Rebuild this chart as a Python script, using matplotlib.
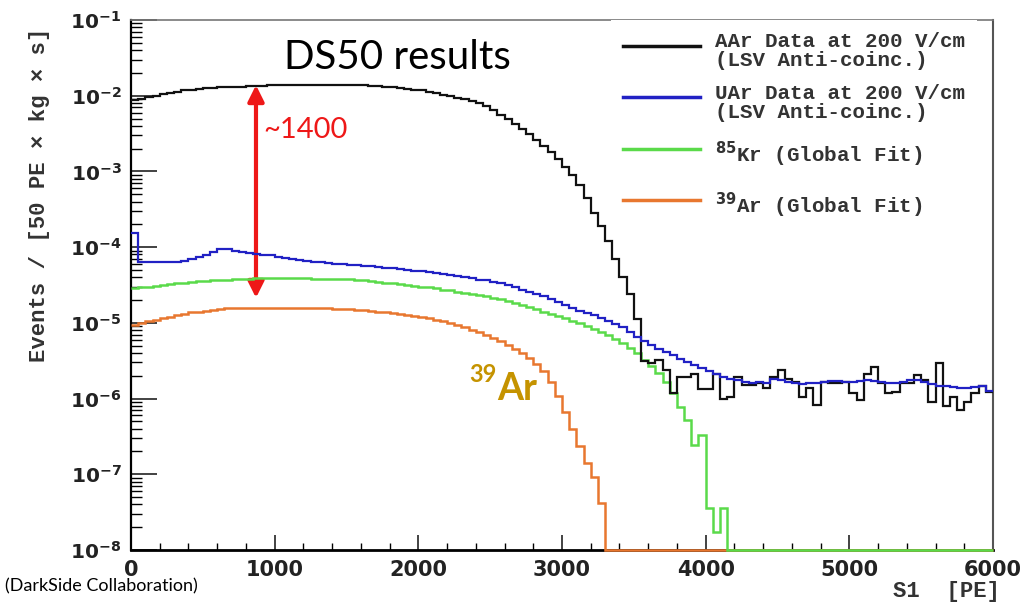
"""DS50 S1 spectra: AAr vs UAr with 85Kr and 39Ar global-fit components."""

import numpy as np
import matplotlib.pyplot as plt
from matplotlib.font_manager import FontProperties
from matplotlib.lines import Line2D
from matplotlib.ticker import FuncFormatter, LogLocator, MultipleLocator, NullFormatter

plt.rcParams["mathtext.fontset"] = "dejavusans"
plt.rcParams["font.weight"] = "bold"

# histogram binning: 50 PE per bin, 0..6000 PE
bin_width = 50
s1_edges = np.arange(0, 6000 + bin_width, bin_width)

# log10(events / [50 PE x kg x s]) per bin; None = empty bin
aar_log = [
    -2.06, -2.04, -2.02, -2.00, -1.98, -1.96, -1.95, -1.93, -1.92, -1.91,
    -1.90, -1.90, -1.89, -1.89, -1.88, -1.88, -1.87, -1.87, -1.87, -1.86,
    -1.86, -1.86, -1.86, -1.86, -1.86, -1.86, -1.86, -1.86, -1.86, -1.86,
    -1.86, -1.86, -1.86, -1.87, -1.87, -1.88, -1.89, -1.90, -1.91, -1.92,
    -1.93, -1.95, -1.97, -1.99, -2.01, -2.03, -2.05, -2.07, -2.10, -2.14,
    -2.19, -2.25, -2.31, -2.38, -2.44, -2.51, -2.58, -2.66, -2.75, -2.84,
    -2.94, -3.05, -3.18, -3.35, -3.55, -3.72, -3.92, -4.15, -4.40, -4.62,
    -4.95, -5.51, -5.53, -5.49, -5.62, -5.93, -5.72, -5.71, -5.68, -5.87,
    -5.87, -5.67, -6.00, -5.98, -5.71, -5.82, -5.82, -5.80, -5.86, -5.71,
    -5.62, -5.74, -5.78, -5.98, -5.86, -6.08, -5.78, -5.80, -5.80, -5.78,
    -5.93, -6.02, -5.67, -5.58, -5.80, -5.93, -5.91, -5.80, -5.80, -5.69,
    -5.76, -6.04, -5.53, -6.10, -5.98, -6.15, -6.04, -5.93, -5.84, -5.91,
]
uar_log = [
    -3.81, -4.20, -4.20, -4.20, -4.19, -4.19, -4.19, -4.18, -4.16, -4.13,
    -4.10, -4.06, -4.02, -4.03, -4.05, -4.06, -4.08, -4.09, -4.10, -4.11,
    -4.13, -4.14, -4.16, -4.17, -4.18, -4.19, -4.20, -4.21, -4.22, -4.22,
    -4.23, -4.24, -4.25, -4.25, -4.26, -4.27, -4.28, -4.29, -4.30, -4.31,
    -4.32, -4.33, -4.34, -4.35, -4.37, -4.38, -4.40, -4.41, -4.43, -4.44,
    -4.46, -4.48, -4.50, -4.53, -4.56, -4.59, -4.62, -4.65, -4.69, -4.72,
    -4.76, -4.80, -4.84, -4.87, -4.90, -4.94, -4.98, -5.02, -5.06, -5.12,
    -5.19, -5.24, -5.29, -5.34, -5.38, -5.43, -5.48, -5.52, -5.56, -5.60,
    -5.64, -5.68, -5.71, -5.74, -5.76, -5.78, -5.79, -5.78, -5.79, -5.74,
    -5.75, -5.78, -5.80, -5.81, -5.80, -5.79, -5.78, -5.77, -5.77, -5.78,
    -5.78, -5.77, -5.76, -5.77, -5.78, -5.79, -5.79, -5.78, -5.76, -5.75,
    -5.78, -5.81, -5.83, -5.84, -5.85, -5.86, -5.86, -5.85, -5.83, -5.90,
]
kr85_log = [
    -4.54, -4.53, -4.52, -4.51, -4.50, -4.49, -4.48, -4.47, -4.46, -4.45,
    -4.45, -4.44, -4.44, -4.43, -4.42, -4.42, -4.42, -4.41, -4.41, -4.41,
    -4.41, -4.41, -4.41, -4.41, -4.41, -4.42, -4.42, -4.42, -4.42, -4.42,
    -4.42, -4.43, -4.44, -4.45, -4.46, -4.47, -4.48, -4.49, -4.50, -4.51,
    -4.52, -4.53, -4.54, -4.56, -4.57, -4.59, -4.60, -4.62, -4.63, -4.65,
    -4.67, -4.69, -4.71, -4.74, -4.76, -4.79, -4.82, -4.85, -4.88, -4.91,
    -4.94, -4.97, -5.00, -5.04, -5.08, -5.12, -5.16, -5.21, -5.27, -5.33,
    -5.40, -5.49, -5.57, -5.66, -5.78, -5.93, -6.11, -6.28, -6.61, -6.48,
    -7.45, -7.76, -7.45,
] + [None] * 37
ar39_log = [
    -5.03, -5.00, -4.98, -4.96, -4.94, -4.92, -4.90, -4.88, -4.86, -4.85,
    -4.84, -4.83, -4.82, -4.81, -4.80, -4.80, -4.80, -4.80, -4.80, -4.80,
    -4.80, -4.80, -4.80, -4.80, -4.80, -4.81, -4.81, -4.81, -4.82, -4.82,
    -4.82, -4.83, -4.83, -4.84, -4.85, -4.86, -4.87, -4.88, -4.89, -4.91,
    -4.92, -4.94, -4.96, -4.98, -5.00, -5.03, -5.06, -5.09, -5.12, -5.16,
    -5.20, -5.24, -5.29, -5.34, -5.40, -5.46, -5.54, -5.64, -5.78, -5.96,
    -6.18, -6.40, -6.62, -6.85, -7.04, -7.38,
] + [None] * 54

series_labels = [
    "AAr Data at 200 V/cm\n(LSV Anti-coinc.)",
    "UAr Data at 200 V/cm\n(LSV Anti-coinc.)",
    r"$^{85}$Kr (Global Fit)",
    r"$^{39}$Ar (Global Fit)",
]

# annotation values
ratio_label = "~1400"
ratio_x = 870
ratio_top, ratio_bottom = 10 ** -1.86, 10 ** -4.67

Y_MIN, Y_MAX = 1e-8, 1e-1

c_aar = "#111111"
c_uar = "#2121c4"
c_kr = "#5ada4a"
c_ar = "#e8772f"
c_red = "#ee1818"
c_gold = "#c59300"


def to_counts(logs):
    # empty bins sit on the axis floor, like ROOT draws them
    return np.array([Y_MIN if v is None else 10.0 ** v for v in logs])


fig = plt.figure(figsize=(10.25, 6.06), dpi=100)
ax = fig.add_axes([0.1278, 0.0924, 0.841, 0.8746])
ax.set_yscale("log")

ax.stairs(to_counts(ar39_log), s1_edges, baseline=None, color=c_ar, lw=1.8,
          clip_on=False, zorder=3)
ax.stairs(to_counts(kr85_log), s1_edges, baseline=None, color=c_kr, lw=1.8,
          clip_on=False, zorder=3.1)
ax.stairs(to_counts(aar_log), s1_edges, baseline=None, color=c_aar, lw=1.6, zorder=3.2)
ax.stairs(to_counts(uar_log), s1_edges, baseline=None, color=c_uar, lw=1.6, zorder=3.3)

ax.set_xlim(0, 6000)
ax.set_ylim(Y_MIN, Y_MAX)

ax.xaxis.set_major_locator(MultipleLocator(1000))
ax.xaxis.set_minor_locator(MultipleLocator(200))
ax.yaxis.set_major_locator(LogLocator(base=10, numticks=20))
ax.yaxis.set_minor_locator(LogLocator(base=10, subs=np.arange(2, 10), numticks=20))
ax.yaxis.set_minor_formatter(NullFormatter())
ax.yaxis.set_major_formatter(
    FuncFormatter(lambda v, p: r"$\mathbf{10^{%d}}$" % round(np.log10(v)))
)

ax.tick_params(axis="x", which="major", direction="in", length=11, width=1.2,
               labelsize=15, pad=7, colors="#222222", top=False)
ax.tick_params(axis="x", which="minor", direction="in", length=5, width=1.0, top=False)
ax.tick_params(axis="y", which="major", direction="in", length=19, width=1.2,
               labelsize=14.5, pad=7, colors="#222222", right=False)
ax.tick_params(axis="y", which="minor", direction="in", length=8, width=1.0, right=False)

ax.spines["left"].set_linewidth(1.6)
ax.spines["bottom"].set_linewidth(2.0)
ax.spines["top"].set_color("#777777")
ax.spines["top"].set_linewidth(1.2)
ax.spines["right"].set_color("#555555")
ax.spines["right"].set_linewidth(1.5)

mono = FontProperties(family="Liberation Mono", weight="bold", size=16)
fig.text(40 / 1025, 1 - 195 / 606, "Events / [50 PE \u00d7 kg \u00d7 s]",
         rotation=90, ha="center", va="center", fontproperties=mono, color="#333333")
fig.text(1000 / 1025, 1 - 591 / 606, "S1  [PE]", ha="right", va="center",
         fontproperties=mono, color="#333333")

handles = [Line2D([], [], color=c, lw=2.5) for c in (c_aar, c_uar, c_kr, c_ar)]
leg = ax.legend(handles, series_labels, loc="upper left", bbox_to_anchor=(0.557, 1.0),
                borderaxespad=0, borderpad=0.58, handlelength=3.7, handleheight=2.53,
                labelspacing=0.58, handletextpad=0.72, frameon=True, fancybox=False,
                facecolor="white", edgecolor="none", framealpha=1,
                prop=FontProperties(family="Liberation Mono", weight="bold", size=15))
leg.set_zorder(5)
for t in leg.get_texts():
    t.set_color("#333333")
    t.set_linespacing(1.0)

# slide annotations
ax.text(0.3086, 0.93, "DS50 results", transform=ax.transAxes, ha="center", va="center",
        family="Lato", fontweight="normal", fontsize=29, color="black")
ax.annotate("", xy=(ratio_x, ratio_bottom), xytext=(ratio_x, ratio_top),
            arrowprops=dict(arrowstyle="<|-|>", color=c_red, lw=3, mutation_scale=24,
                            shrinkA=0, shrinkB=0))
ax.text(ratio_x + 50, 10 ** -2.45, ratio_label, ha="left", va="center",
        family="Lato", fontweight="normal", fontsize=21, color=c_red)
ax.text(2548, 10 ** -6.02, "Ar", ha="left", va="baseline",
        family="Lato", fontweight="bold", fontsize=27, color=c_gold)
ax.text(2548, 10 ** -5.78, "39", ha="right", va="baseline",
        family="Lato", fontweight="bold", fontsize=17, color=c_gold)

fig.text(5 / 1025, 12 / 606, "(DarkSide Collaboration)", ha="left", va="bottom",
         family="Lato", fontweight="normal", fontsize=13, color="black")

fig.savefig("out.png", dpi=100)
